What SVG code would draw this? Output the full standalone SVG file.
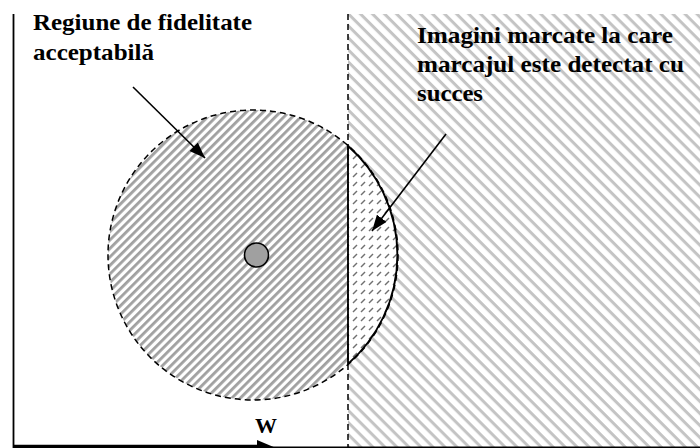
<svg xmlns="http://www.w3.org/2000/svg" width="700" height="448" viewBox="0 0 700 448">
<defs>
<style>
.lbl{font-family:"Liberation Serif","Times New Roman",serif;font-weight:bold;font-size:24px;fill:#000}
.dash{fill:none;stroke:#000;stroke-width:1.5;stroke-dasharray:6 4}
.arr{stroke:#000;stroke-width:1.6;fill:none}
</style>
<pattern id="hRight" patternUnits="userSpaceOnUse" width="8.5" height="8.5" patternTransform="rotate(45)">
<rect width="8.5" height="8.5" fill="#fff"/>
<rect x="0" y="0" width="8.5" height="3" fill="#c4c4c4"/>
</pattern>
<pattern id="hCircle" patternUnits="userSpaceOnUse" width="6" height="6" patternTransform="rotate(-45)">
<rect width="6" height="6" fill="#fff"/>
<rect x="0" y="0" width="6" height="2.8" fill="#a0a0a0"/>
</pattern>
<pattern id="hDash" patternUnits="userSpaceOnUse" width="8" height="9">
<rect width="8" height="9" fill="#fff"/>
<line x1="1" y1="6" x2="5" y2="2" stroke="#707070" stroke-width="1.4"/>
</pattern>
<marker id="ah" markerWidth="16" markerHeight="12" refX="16" refY="6" orient="auto" markerUnits="userSpaceOnUse">
<path d="M0,0 L16,6 L0,12 Z" fill="#000"/>
</marker>
<clipPath id="leftClip"><rect x="0" y="0" width="348" height="448"/></clipPath>
</defs>
<rect width="700" height="448" fill="#fff"/>
<g id="region-detect">
<rect x="348" y="14" width="352" height="434" fill="url(#hRight)"/>
</g>
<g id="region-fidelity">
<circle cx="253" cy="255" r="145" fill="url(#hCircle)" clip-path="url(#leftClip)"/>
</g>
<g id="region-intersection">
<path d="M348,146 A145,145 0 0 1 348,364 Z" fill="url(#hDash)" stroke="#000" stroke-width="1.8"/>
</g>
<g id="boundaries">
<circle cx="253" cy="255" r="145" class="dash"/>
<line x1="348" y1="14" x2="348" y2="448" class="dash"/>
<line x1="13.5" y1="14" x2="13.5" y2="448" stroke="#000" stroke-width="1.8"/>
</g>
<g id="center-dot">
<circle cx="256.5" cy="255" r="12" fill="#a0a0a0" stroke="#000" stroke-width="1.6"/>
</g>
<g id="axis-w">
<line x1="13" y1="446.5" x2="262" y2="446.5" stroke="#000" stroke-width="3.5"/>
<line x1="262" y1="447.3" x2="700" y2="447.3" stroke="#000" stroke-width="1.5"/>
<path d="M257,440 L276,448 L257,448 Z" fill="#000"/>
<text class="lbl" x="255" y="433" style="font-size:22px" textLength="22" lengthAdjust="spacingAndGlyphs">W</text>
</g>
<g id="connectors">
<line x1="133" y1="87" x2="205" y2="158" class="arr" marker-end="url(#ah)"/>
<line x1="446" y1="134" x2="372" y2="231" class="arr" marker-end="url(#ah)"/>
</g>
<g id="label-fidelity">
<text class="lbl" x="33" y="30" textLength="219" lengthAdjust="spacingAndGlyphs">Regiune de fidelitate</text>
<text class="lbl" x="33" y="60" textLength="121" lengthAdjust="spacingAndGlyphs">acceptabilă</text>
</g>
<g id="label-detect">
<text class="lbl" x="417" y="43" textLength="256" lengthAdjust="spacingAndGlyphs">Imagini marcate la care</text>
<text class="lbl" x="417" y="72" textLength="267" lengthAdjust="spacingAndGlyphs">marcajul este detectat cu</text>
<text class="lbl" x="417" y="101" textLength="66" lengthAdjust="spacingAndGlyphs">succes</text>
</g>
</svg>
